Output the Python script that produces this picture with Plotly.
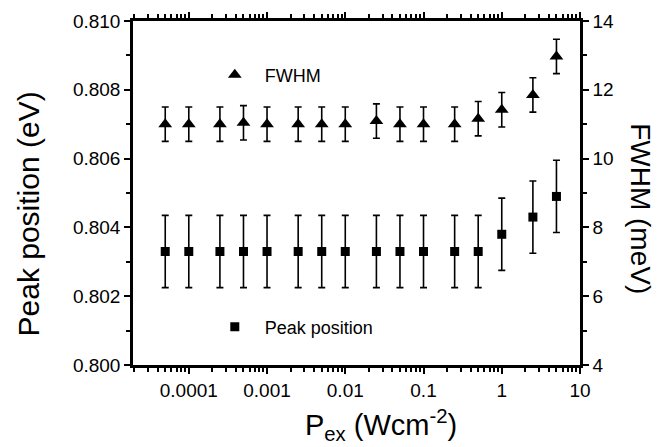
import plotly.graph_objects as go

# Excitation power density (W cm^-2)
power = [5e-5, 1e-4, 2.5e-4, 5e-4, 1e-3, 2.5e-3, 5e-3, 0.01, 0.025, 0.05, 0.1, 0.25, 0.5, 1, 2.5, 5]
# Peak position (eV) and its error
peak_pos = [0.8033, 0.8033, 0.8033, 0.8033, 0.8033, 0.8033, 0.8033, 0.8033,
            0.8033, 0.8033, 0.8033, 0.8033, 0.8033, 0.8038, 0.8043, 0.8049]
peak_err = [0.00105] * 16
# FWHM (meV) and its error
fwhm = [11.0, 11.0, 11.0, 11.04, 11.0, 11.0, 11.0, 11.0,
        11.09, 11.0, 11.0, 11.0, 11.16, 11.42, 11.85, 12.97]
fwhm_err = [0.5] * 16

x_tickvals = [1e-4, 1e-3, 1e-2, 0.1, 1, 10]
x_ticktext = ["0.0001", "0.001", "0.01", "0.1", "1", "10"]

FONT = "Arial, Liberation Sans, Helvetica, sans-serif"
NB = "\u00a0"

fig = go.Figure()
fig.add_trace(go.Scatter(
    x=power, y=fwhm, yaxis="y2", mode="markers", name=NB * 2 + "FWHM",
    marker=dict(symbol="triangle-up", size=12, color="black"),
    error_y=dict(type="data", array=fwhm_err, color="black", thickness=1.6, width=3.5),
    legend="legend",
))
fig.add_trace(go.Scatter(
    x=power, y=peak_pos, yaxis="y", mode="markers", name=NB * 2 + "Peak position",
    marker=dict(symbol="square", size=9, color="black"),
    error_y=dict(type="data", array=peak_err, color="black", thickness=1.6, width=3.5),
    legend="legend2",
))

minor_common = dict(ticks="outside", ticklen=4, tickwidth=2, tickcolor="#000000",
                    showgrid=False)
axis_common = dict(showgrid=False, zeroline=False, showline=True, linecolor="#000000",
                   linewidth=2.5, ticks="outside", tickcolor="#000000", tickwidth=2,
                   ticklen=6, tickfont=dict(family=FONT, size=19, color="black"))

fig.update_layout(
    width=657, height=447,
    margin=dict(l=133, r=77, t=21, b=82),
    paper_bgcolor="white", plot_bgcolor="white",
    font=dict(family=FONT, color="black"),
    xaxis=dict(type="log", range=[-4.713, 1.0], tickvals=x_tickvals, ticktext=x_ticktext,
               mirror="ticks",
               minor=dict(tickmode="linear", dtick="D1", **minor_common),
               **axis_common),
    yaxis=dict(range=[0.800, 0.810], dtick=0.002, tickformat=".3f",
               minor=dict(tickmode="linear", dtick=0.001, **minor_common),
               **axis_common),
    yaxis2=dict(range=[4, 14], dtick=2, overlaying="y", side="right",
                minor=dict(tickmode="linear", dtick=1, **minor_common),
                **axis_common),
    legend=dict(x=0.183, y=0.843, xanchor="left", yanchor="middle",
                bgcolor="rgba(0,0,0,0)", font=dict(family=FONT, size=18, color="black")),
    legend2=dict(x=0.183, y=0.11, xanchor="left", yanchor="middle",
                 bgcolor="rgba(0,0,0,0)", font=dict(family=FONT, size=18, color="black")),
    showlegend=True,
    annotations=[
        dict(text="P<sub>ex</sub> (Wcm<sup>-2</sup>)", xref="paper", yref="paper",
             x=0.555, y=-0.175, xanchor="center", yanchor="middle", showarrow=False,
             font=dict(family=FONT, size=29, color="black")),
        dict(text="Peak position (eV)", xref="paper", yref="paper",
             x=-0.233, y=0.44, xanchor="center", yanchor="middle", textangle=-90,
             showarrow=False, font=dict(family=FONT, size=30, color="black")),
        dict(text="FWHM (meV)", xref="paper", yref="paper",
             x=1.135, y=0.455, xanchor="center", yanchor="middle", textangle=90,
             showarrow=False, font=dict(family=FONT, size=28, color="black")),
    ],
)

fig.write_html("out.html")
